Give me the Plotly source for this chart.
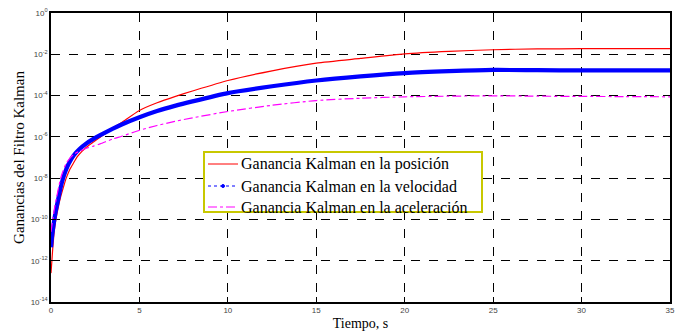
import plotly.graph_objects as go

# Time samples (s)
t_pos = [0, 0.05, 0.1, 0.18, 0.28, 0.4, 0.55, 0.7, 0.86, 1.05, 1.25, 1.5, 1.75, 2, 2.4, 2.78, 3.5, 4, 5, 6, 7, 8, 10, 12.5, 15, 17.5, 20, 22.5, 25, 27.5, 30, 32.5, 35]
log_pos = [-12.6, -12.0, -11.4, -10.6, -10.0, -9.45, -8.9, -8.45, -8.0, -7.6, -7.3, -6.95, -6.7, -6.5, -6.25, -6.02, -5.58, -5.3, -4.72, -4.35, -4.05, -3.78, -3.27, -2.8, -2.43, -2.2, -1.98, -1.86, -1.78, -1.74, -1.73, -1.73, -1.73]

t_vel = [0, 0.05, 0.1, 0.19, 0.28, 0.4, 0.52, 0.65, 0.8, 1, 1.28, 1.6, 2, 2.4, 2.78, 3.5, 4, 5, 6, 7, 8, 10, 12.5, 15, 17.5, 20, 22.5, 25, 27.5, 30, 32.5, 35]
log_vel = [-11.35, -10.9, -10.55, -10.0, -9.55, -9.05, -8.55, -8.1, -7.7, -7.3, -6.9, -6.6, -6.32, -6.1, -5.92, -5.6, -5.4, -5.05, -4.75, -4.5, -4.28, -3.88, -3.55, -3.27, -3.07, -2.91, -2.82, -2.76, -2.77, -2.78, -2.78, -2.78]

t_acc = [0, 0.05, 0.1, 0.2, 0.3, 0.42, 0.53, 0.68, 0.85, 1.05, 1.28, 1.6, 2, 2.4, 2.78, 3.5, 4, 5, 6, 7, 8, 10, 12.5, 15, 17.5, 20, 22.5, 25, 27.5, 30, 32.5, 35]
log_acc = [-10.6, -10.3, -10.0, -9.45, -9.0, -8.5, -8.05, -7.65, -7.3, -7.05, -6.85, -6.7, -6.55, -6.45, -6.34, -6.1, -5.97, -5.68, -5.45, -5.25, -5.08, -4.77, -4.47, -4.24, -4.13, -4.06, -4.03, -4.01, -4.03, -4.04, -4.05, -4.06]

x_ticks = [0, 5, 10, 15, 20, 25, 30, 35]
y_exps = [0, -2, -4, -6, -8, -10, -12, -14]

names = ["Ganancia Kalman en la posición",
         "Ganancia Kalman en la velocidad",
         "Ganancia Kalman en la aceleración"]
colors = ["red", "blue", "#ff00ff"]

def pw(v):
    return [10 ** e for e in v]

W, H = 678, 333
ML, MR, MT, MB = 51, 8, 13, 31
PW, PH = W - ML - MR, H - MT - MB

def px_x(p):
    return (p - ML) / PW

def px_y(p):
    return (H - MB - p) / PH

fig = go.Figure()
fig.add_trace(go.Scatter(x=t_pos, y=pw(log_pos), mode="lines", name=names[0], showlegend=False,
                         line=dict(color=colors[0], width=1.2, shape="spline", smoothing=0.6)))
fig.add_trace(go.Scatter(x=t_vel, y=pw(log_vel), mode="lines", name=names[1], showlegend=False,
                         line=dict(color=colors[1], width=4.2, shape="spline", smoothing=0.6)))
fig.add_trace(go.Scatter(x=t_acc, y=pw(log_acc), mode="lines", name=names[2], showlegend=False,
                         line=dict(color=colors[2], width=1.2, dash="dashdot", shape="spline", smoothing=0.6)))

# Legend box (MATLAB style)
shapes = [dict(type="rect", xref="paper", yref="paper",
               x0=px_x(204), x1=px_x(482), y0=px_y(212), y1=px_y(152),
               line=dict(color="#c8c800", width=2), fillcolor="white", layer="above")]
annotations = []
rows = [164, 186, 207]
dashes = ["solid", "dot", "dashdot"]
for i, (nm, c, ry) in enumerate(zip(names, colors, rows)):
    shapes.append(dict(type="line", xref="paper", yref="paper",
                       x0=px_x(208), x1=px_x(238), y0=px_y(ry), y1=px_y(ry),
                       line=dict(color=c, width=1, dash=dashes[i]), layer="above"))
    if i == 1:
        shapes.append(dict(type="circle", xref="paper", yref="paper",
                           x0=px_x(221.5), x1=px_x(224.5), y0=px_y(ry + 1.5), y1=px_y(ry - 1.5),
                           line=dict(color=c, width=1), fillcolor=c, layer="above"))
    annotations.append(dict(xref="paper", yref="paper", x=px_x(239), y=px_y(ry),
                            xanchor="left", yanchor="middle", showarrow=False, text=nm,
                            font=dict(family="Liberation Serif", size=16, color="black")))

fig.update_layout(
    width=W, height=H,
    margin=dict(l=ML, r=MR, t=MT, b=MB),
    paper_bgcolor="white", plot_bgcolor="white",
    showlegend=False,
    shapes=shapes, annotations=annotations,
    font=dict(family="Liberation Sans", size=8, color="#333"),
)
fig.update_xaxes(range=[0, 35], tickvals=x_ticks, ticktext=[str(v) for v in x_ticks],
                 automargin=False,
                 showgrid=True, gridcolor="black", griddash="dash", gridwidth=1,
                 showline=True, linecolor="black", linewidth=1.5, mirror=True,
                 ticks="inside", ticklen=5, tickcolor="black", zeroline=False,
                 tickfont=dict(family="Liberation Sans", size=8, color="#444"),
                 title=dict(text="Tiempo, s", standoff=4,
                            font=dict(family="Liberation Serif", size=14, color="black")))
fig.update_yaxes(type="log", range=[-14, 0], tickvals=[10 ** e for e in y_exps],
                 ticktext=["10<sup>%d</sup>" % e for e in y_exps],
                 automargin=False,
                 showgrid=True, gridcolor="black", griddash="dash", gridwidth=1,
                 showline=True, linecolor="black", linewidth=1.5, mirror=True,
                 ticks="inside", ticklen=5, tickcolor="black", zeroline=False,
                 tickfont=dict(family="Liberation Sans", size=8, color="#444"),
                 title=dict(text="Ganancias del Filtro Kalman", standoff=2,
                            font=dict(family="Liberation Serif", size=15, color="black")))

fig.write_html("out.html", config={"displayModeBar": False},
               post_script="document.body.style.margin='0';")
